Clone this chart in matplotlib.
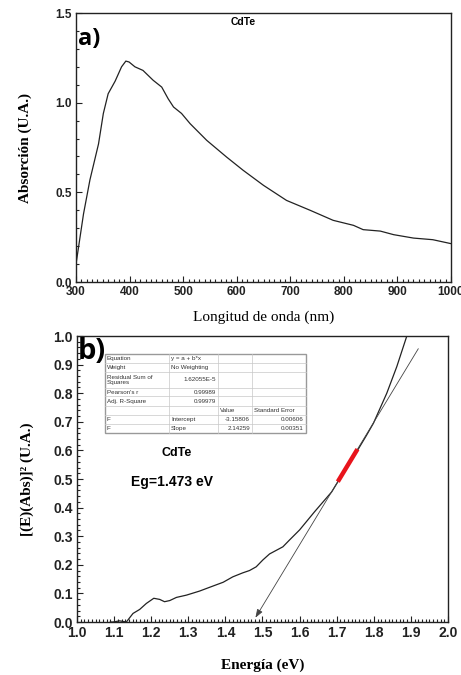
import numpy as np
import matplotlib
matplotlib.use("Agg")
import matplotlib.pyplot as plt
from matplotlib.ticker import MultipleLocator, FormatStrFormatter

# ---- (a) absorption spectrum ----
wavelength = [300, 314, 326, 342, 351, 360, 373, 385, 393, 399, 410, 425, 444, 460,
              472, 482, 497, 513, 544, 581, 612, 650, 693, 737, 780, 818, 836, 868,
              893, 930, 966, 1000]
absorbance = [0.10, 0.38, 0.57, 0.77, 0.94, 1.05, 1.12, 1.20, 1.232, 1.227, 1.20, 1.18,
              1.125, 1.087, 1.022, 0.976, 0.94, 0.883, 0.79, 0.697, 0.623, 0.539, 0.455,
              0.40, 0.344, 0.316, 0.292, 0.284, 0.264, 0.245, 0.236, 0.214]

# ---- (b) Tauc plot ----
energy = [1.09, 1.097, 1.115, 1.133, 1.151, 1.169, 1.187, 1.207, 1.223, 1.236, 1.25,
          1.268, 1.295, 1.33, 1.367, 1.394, 1.42, 1.447, 1.465, 1.483, 1.501, 1.519,
          1.555, 1.573, 1.60, 1.64, 1.6865, 1.703, 1.73, 1.756, 1.78, 1.799, 1.835,
          1.862, 1.889]
tauc = [0.0, 0.0, 0.004, 0.0, 0.03, 0.044, 0.065, 0.083, 0.079, 0.071, 0.075, 0.086,
        0.094, 0.108, 0.126, 0.139, 0.158, 0.172, 0.18, 0.193, 0.217, 0.238, 0.263,
        0.287, 0.322, 0.385, 0.455, 0.49, 0.547, 0.60, 0.652, 0.695, 0.80, 0.893, 1.0]

# linear fit y = a + b*x
fit_a = -3.15806
fit_b = 2.14259
fit_range = [1.703, 1.756]
fit_line_top = 1.92
eg_value = 1.473

table_rows = [
    ["Equation", "y = a + b*x", "", ""],
    ["Weight", "No Weighting", "", ""],
    ["Residual Sum of\nSquares", "1.62055E-5", "", ""],
    ["Pearson's r", "0.99989", "", ""],
    ["Adj. R-Square", "0.99979", "", ""],
    ["", "", "Value", "Standard Error"],
    ["F", "Intercept", "-3.15806", "0.00606"],
    ["F", "Slope", "2.14259", "0.00351"],
]
col_widths = [192, 147, 102, 161]
row_heights = [26, 27, 50, 25, 28, 27, 27, 28]
right_aligned = {(2, 1), (3, 1), (4, 1), (6, 2), (6, 3), (7, 2), (7, 3)}

tick_font = "Liberation Sans"
label_font = "Liberation Serif"

fig = plt.figure(figsize=(4.61, 6.75), dpi=100)


def style_axes(ax, fs):
    for s in ax.spines.values():
        s.set_linewidth(1.0)
        s.set_color("#222222")
    ax.tick_params(which="both", direction="in", top=False, right=False,
                   width=0.8, colors="#222222")
    ax.tick_params(which="major", length=4, pad=3)
    ax.tick_params(which="minor", length=2)
    for lab in ax.get_xticklabels() + ax.get_yticklabels():
        lab.set_fontfamily(tick_font)
        lab.set_fontweight("bold")
        lab.set_fontsize(fs)


# panel a
ax1 = fig.add_axes([0.1649, 0.5822, 0.8134, 0.3985])
ax1.plot(wavelength, absorbance, color="#222222", lw=0.9)
ax1.set_xlim(300, 1000)
ax1.set_ylim(0, 1.5)
ax1.xaxis.set_major_locator(MultipleLocator(100))
ax1.xaxis.set_minor_locator(MultipleLocator(10))
ax1.yaxis.set_major_locator(MultipleLocator(0.5))
ax1.yaxis.set_minor_locator(MultipleLocator(0.1))
ax1.yaxis.set_major_formatter(FormatStrFormatter("%.1f"))
style_axes(ax1, 8.5)
ax1.set_xlabel("Longitud de onda (nm)", fontfamily=label_font, fontsize=11, labelpad=9)
ax1.set_ylabel("Absorción (U.A.)", fontfamily=label_font, fontweight="bold",
               fontsize=11, labelpad=17)
ax1.text(612, 1.45, "CdTe", fontfamily=tick_font, fontweight="bold", fontsize=7.5,
         ha="center", va="center")
ax1.text(0.005, 0.905, "a)", transform=ax1.transAxes, fontfamily="Open Sans",
         fontweight="bold", fontsize=17, ha="left", va="center")

# panel b
ax2 = fig.add_axes([0.167, 0.0785, 0.8048, 0.4237])
ax2.plot(energy, tauc, color="#222222", lw=0.9, zorder=3)
x0 = eg_value + 0.008
ax2.annotate("", xy=(x0, fit_a + fit_b * x0),
             xytext=(fit_line_top, fit_a + fit_b * fit_line_top),
             arrowprops=dict(arrowstyle="-|>,head_length=0.5,head_width=0.18",
                             color="#444444", lw=0.6, shrinkA=0, shrinkB=0))
fx = np.array(fit_range)
ax2.plot(fx, fit_a + fit_b * fx, color="#e8141c", lw=3.2, zorder=4,
         solid_capstyle="butt")
ax2.set_xlim(1.0, 2.0)
ax2.set_ylim(0, 1.0)
ax2.xaxis.set_major_locator(MultipleLocator(0.1))
ax2.xaxis.set_minor_locator(MultipleLocator(0.01))
ax2.yaxis.set_major_locator(MultipleLocator(0.1))
ax2.yaxis.set_minor_locator(MultipleLocator(0.02))
ax2.xaxis.set_major_formatter(FormatStrFormatter("%.1f"))
ax2.yaxis.set_major_formatter(FormatStrFormatter("%.1f"))
style_axes(ax2, 10)
ax2.set_xlabel("Energía (eV)", fontfamily=label_font, fontweight="bold",
               fontsize=11, labelpad=13)
ax2.set_ylabel("[(E)(Abs)]² (U.A.)", fontfamily=label_font,
               fontweight="bold", fontsize=11, labelpad=14)
ax2.text(1.268, 0.592, "CdTe", fontfamily=tick_font, fontweight="bold",
         fontsize=9, ha="center", va="center")
ax2.text(1.257, 0.49, "Eg=1.473 eV", fontfamily=tick_font, fontweight="bold",
         fontsize=10, ha="center", va="center")
ax2.text(0.002, 0.945, "b)", transform=ax2.transAxes, fontfamily="Open Sans",
         fontweight="bold", fontsize=21, ha="left", va="center")

# fit results table, placed in axes coordinates
tx0, tx1 = 0.0755, 0.617
ty0, ty1 = 0.661, 0.937
cw = np.array(col_widths, float)
rh = np.array(row_heights, float)
xs = tx0 + (tx1 - tx0) * np.concatenate([[0], np.cumsum(cw)]) / cw.sum()
ys = ty1 - (ty1 - ty0) * np.concatenate([[0], np.cumsum(rh)]) / rh.sum()
ax2.add_patch(plt.Rectangle((tx0, ty0), tx1 - tx0, ty1 - ty0, transform=ax2.transAxes,
                            facecolor="white", edgecolor="#999999", lw=1.0, zorder=5))
for yv in ys[1:-1]:
    ax2.plot([tx0, tx1], [yv, yv], transform=ax2.transAxes, color="#c8c8c8",
             lw=0.5, zorder=6)
for xv in xs[1:-1]:
    ax2.plot([xv, xv], [ty0, ty1], transform=ax2.transAxes, color="#c8c8c8",
             lw=0.5, zorder=6)
for r, row in enumerate(table_rows):
    for c, txt in enumerate(row):
        if not txt:
            continue
        ymid = 0.5 * (ys[r] + ys[r + 1])
        if (r, c) in right_aligned:
            ax2.text(xs[c + 1] - 0.006, ymid, txt, transform=ax2.transAxes,
                     fontfamily=tick_font, fontsize=4.5, ha="right", va="center",
                     color="#333333", zorder=7, linespacing=1.1)
        else:
            ax2.text(xs[c] + 0.005, ymid, txt, transform=ax2.transAxes,
                     fontfamily=tick_font, fontsize=4.5, ha="left", va="center",
                     color="#333333", zorder=7, linespacing=1.1)

fig.savefig("out.png", dpi=100)
